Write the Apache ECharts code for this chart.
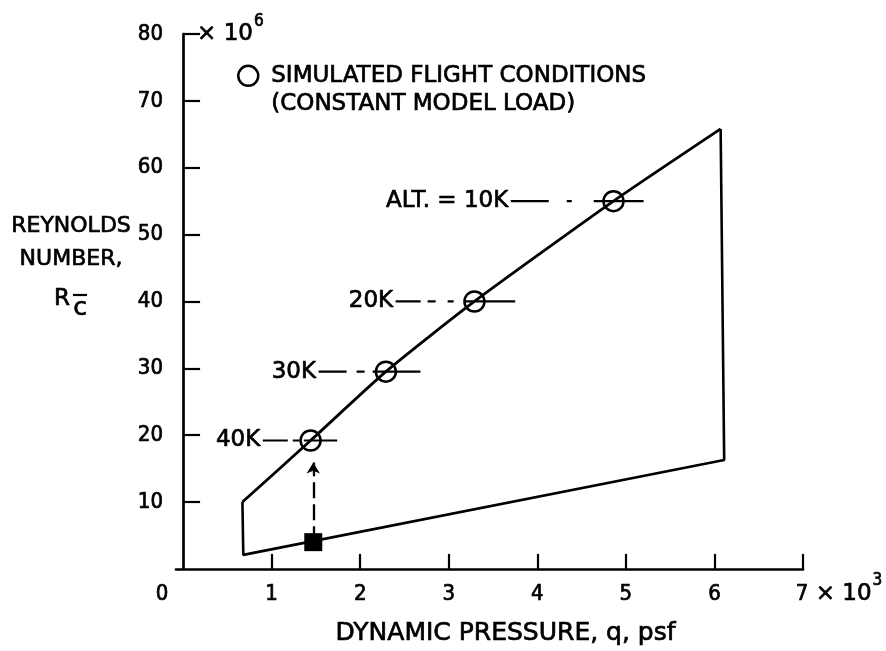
<!DOCTYPE html>
<html>
<head>
<meta charset="utf-8">
<script src="https://cdn.jsdelivr.net/npm/echarts@6/dist/echarts.min.js"></script>
<style>
  html, body { margin: 0; padding: 0; background: #fff; }
  #chart { width: 886px; height: 651px; }
</style>
</head>
<body>
<div id="chart"></div>
<script>
const NUM_FONT = "'DejaVu Sans Condensed','DejaVu Sans',sans-serif";
const TEXT_FONT = "'DejaVu Sans',sans-serif";
// slightly heavier strokes for all lettering
const INK = { color: '#000', textBorderColor: '#000', textBorderWidth: 0.7 };

// Tunnel operating envelope: q in 10^3 psf, Reynolds number in 10^6
const upperBoundQ = [0.67, 1.44, 2.29, 3.29, 4.86, 6.07];
const upperBoundR = [10.0, 19.2, 29.5, 40.0, 55.0, 65.8];
const outlineQ = [6.07, 6.11, 0.68, 0.67];
const outlineR = [65.8, 16.3, 2.1, 10.0];

// Simulated flight conditions (constant model load)
const altitudeLabels = ['40K', '30K', '20K', 'ALT. = 10K'];
const flightQ = [1.44, 2.29, 3.29, 4.86];
const flightR = [19.2, 29.5, 40.0, 55.0];
const leaderStartQ = [0.90, 1.53, 2.40, 3.70];
const leaderEndQ = [1.74, 2.68, 3.75, 5.20];

// Starting point at the lower boundary and the arrow up to 40K
const startQ = [1.47];
const startR = [4.0];
const arrowTopR = [15.9];

// Axis tick and label positions
const xTickValues = [1, 2, 3, 4, 5, 6, 7];
const xLabelValues = [0, 1, 2, 3, 4, 5, 6, 7];
const yMin = 0, yMax = 80, yStep = 10;
const xMin = -0.08, xMax = 7;

const legendName = 'SIMULATED FLIGHT CONDITIONS';
const legendSub = '(CONSTANT MODEL LOAD)';

const zip = (a, b) => a.map((v, i) => [v, b[i]]);

// dash patterns for the altitude leader lines
const leaderDash = [
  [25, 5, 7, 4, 300],
  [28, 10, 8, 8, 300],
  [25, 7, 8, 12, 6, 11, 300],
  [38, 18, 5, 22, 300]
];

const leaderSeries = altitudeLabels.map((name, i) => ({
  type: 'line',
  silent: true,
  symbol: 'none',
  lineStyle: { color: '#000', width: 2.2, type: leaderDash[i] },
  data: [[leaderStartQ[i], flightR[i]], [leaderEndQ[i], flightR[i]]],
  z: 3
}));

// every x tick label uses the same line box so the exponent does not push "7" down
const X_LINE = 44;

const chart = echarts.init(document.getElementById('chart'), null, { renderer: 'canvas' });

chart.setOption({
  animation: false,
  backgroundColor: '#fff',
  textStyle: { fontFamily: TEXT_FONT, color: '#000' },
  grid: { left: 176, right: 83, top: 34, bottom: 70, containLabel: false },
  legend: {
    data: [{ name: legendName, icon: 'circle' }],
    left: 237, top: 64, padding: 0,
    itemWidth: 20, itemHeight: 20,
    selectedMode: false,
    itemStyle: { color: 'transparent', borderColor: '#000', borderWidth: 2.5, opacity: 1 },
    formatter: () => '{a|' + legendName + '}\n{a|' + legendSub + '}',
    textStyle: Object.assign({
      fontSize: 23, fontFamily: TEXT_FONT, padding: [28, 0, 0, 8],
      rich: { a: Object.assign({ fontSize: 23, lineHeight: 28, fontFamily: TEXT_FONT }, INK) }
    }, INK)
  },
  xAxis: {
    type: 'value', min: xMin, max: xMax,
    axisLine: { show: true, lineStyle: { color: '#000', width: 2.7 } },
    axisTick: { show: true, inside: true, length: 15, customValues: xTickValues,
      lineStyle: { color: '#000', width: 2.2 } },
    splitLine: { show: false },
    axisLabel: Object.assign({
      customValues: xLabelValues, margin: 3, fontSize: 22, fontFamily: NUM_FONT,
      formatter: v => {
        if (v === 0) return '{z|0}';
        if (v === 7) return '{n7|7}{t| × 10}{s|3}';
        return '{n|' + v + '}';
      },
      rich: {
        n: Object.assign({ fontSize: 22, lineHeight: X_LINE, fontFamily: NUM_FONT }, INK),
        z: Object.assign({ fontSize: 22, lineHeight: X_LINE, fontFamily: NUM_FONT, padding: [0, 42, 0, 0] }, INK),
        n7: Object.assign({ fontSize: 22, lineHeight: X_LINE, fontFamily: NUM_FONT, padding: [0, 0, 0, 72] }, INK),
        t: Object.assign({ fontSize: 23, lineHeight: X_LINE, fontFamily: TEXT_FONT }, INK),
        s: Object.assign({ fontSize: 17, lineHeight: 18, fontFamily: NUM_FONT, padding: [0, 0, 26, 1] }, INK)
      }
    }, INK),
    name: 'DYNAMIC PRESSURE, q, psf',
    nameLocation: 'middle', nameGap: 41,
    nameTextStyle: Object.assign({ fontSize: 25, fontFamily: TEXT_FONT, padding: [0, 0, 0, 32] }, INK)
  },
  yAxis: {
    type: 'value', min: yMin, max: yMax, interval: yStep,
    axisLine: { show: true, lineStyle: { color: '#000', width: 2.7 } },
    axisTick: { show: true, inside: true, length: 17, lineStyle: { color: '#000', width: 2.2 } },
    splitLine: { show: false },
    axisLabel: Object.assign({ showMinLabel: false, margin: 13, fontSize: 22, fontFamily: NUM_FONT }, INK),
    name: '{t|× 10}{s|6}',
    nameLocation: 'end', nameGap: 0,
    nameTextStyle: {
      align: 'left', verticalAlign: 'middle', padding: [0, 0, 0, 14],
      rich: {
        t: Object.assign({ fontSize: 23, fontFamily: TEXT_FONT }, INK),
        s: Object.assign({ fontSize: 17, fontFamily: NUM_FONT, padding: [0, 0, 24, 1] }, INK)
      }
    }
  },
  graphic: [
    {
      type: 'text', x: 71, y: 243,
      style: {
        text: 'REYNOLDS\nNUMBER,', fontSize: 22, lineHeight: 33, fontFamily: TEXT_FONT,
        fill: '#000', stroke: '#000', lineWidth: 0.7, align: 'center', verticalAlign: 'middle'
      }
    },
    {
      type: 'text', x: 62, y: 299,
      style: { text: 'R', fontSize: 23, fontFamily: TEXT_FONT, fill: '#000', stroke: '#000', lineWidth: 0.7,
        align: 'center', verticalAlign: 'middle' }
    },
    {
      type: 'text', x: 80, y: 308,
      style: { text: 'c', fontSize: 25, fontFamily: TEXT_FONT, fill: '#000', stroke: '#000', lineWidth: 0.7,
        align: 'center', verticalAlign: 'middle' }
    },
    {
      type: 'line', shape: { x1: 73, y1: 295, x2: 87, y2: 295 },
      style: { stroke: '#000', lineWidth: 2.2 }
    }
  ],
  series: [
    {
      name: 'upper boundary', type: 'line', silent: true, symbol: 'none',
      smooth: 0.2,
      lineStyle: { color: '#000', width: 2.8 },
      data: zip(upperBoundQ, upperBoundR), z: 4
    },
    {
      name: 'envelope', type: 'line', silent: true, symbol: 'none',
      lineStyle: { color: '#000', width: 2.6 },
      data: zip(outlineQ, outlineR), z: 4
    },
    ...leaderSeries,
    {
      name: 'altitude labels', type: 'scatter', silent: true,
      symbol: 'circle', symbolSize: 1,
      itemStyle: { color: 'transparent', opacity: 1 },
      label: Object.assign({
        show: true, position: 'left', distance: 2, offset: [0, -6],
        formatter: p => altitudeLabels[p.dataIndex],
        fontSize: 23, fontFamily: TEXT_FONT
      }, INK),
      labelLayout: { hideOverlap: false },
      data: zip(leaderStartQ, flightR), z: 6
    },
    {
      name: legendName, type: 'scatter', silent: true,
      symbol: 'circle', symbolSize: 20,
      itemStyle: { color: 'transparent', borderColor: '#000', borderWidth: 2.5, opacity: 1 },
      data: zip(flightQ, flightR), z: 5
    },
    {
      name: 'start point', type: 'scatter', silent: true,
      symbol: 'rect', symbolSize: 18,
      itemStyle: { color: '#000', opacity: 1 },
      data: zip(startQ, startR), z: 5,
      markLine: {
        silent: true, animation: false,
        symbol: ['none', 'arrow'], symbolSize: [10, 11],
        label: { show: false },
        lineStyle: { color: '#000', width: 2.3, type: [16, 6], opacity: 1 },
        emphasis: { disabled: true },
        data: [[{ coord: [startQ[0], startR[0]] }, { coord: [startQ[0], arrowTopR[0]] }]]
      }
    }
  ]
});
</script>
</body>
</html>
